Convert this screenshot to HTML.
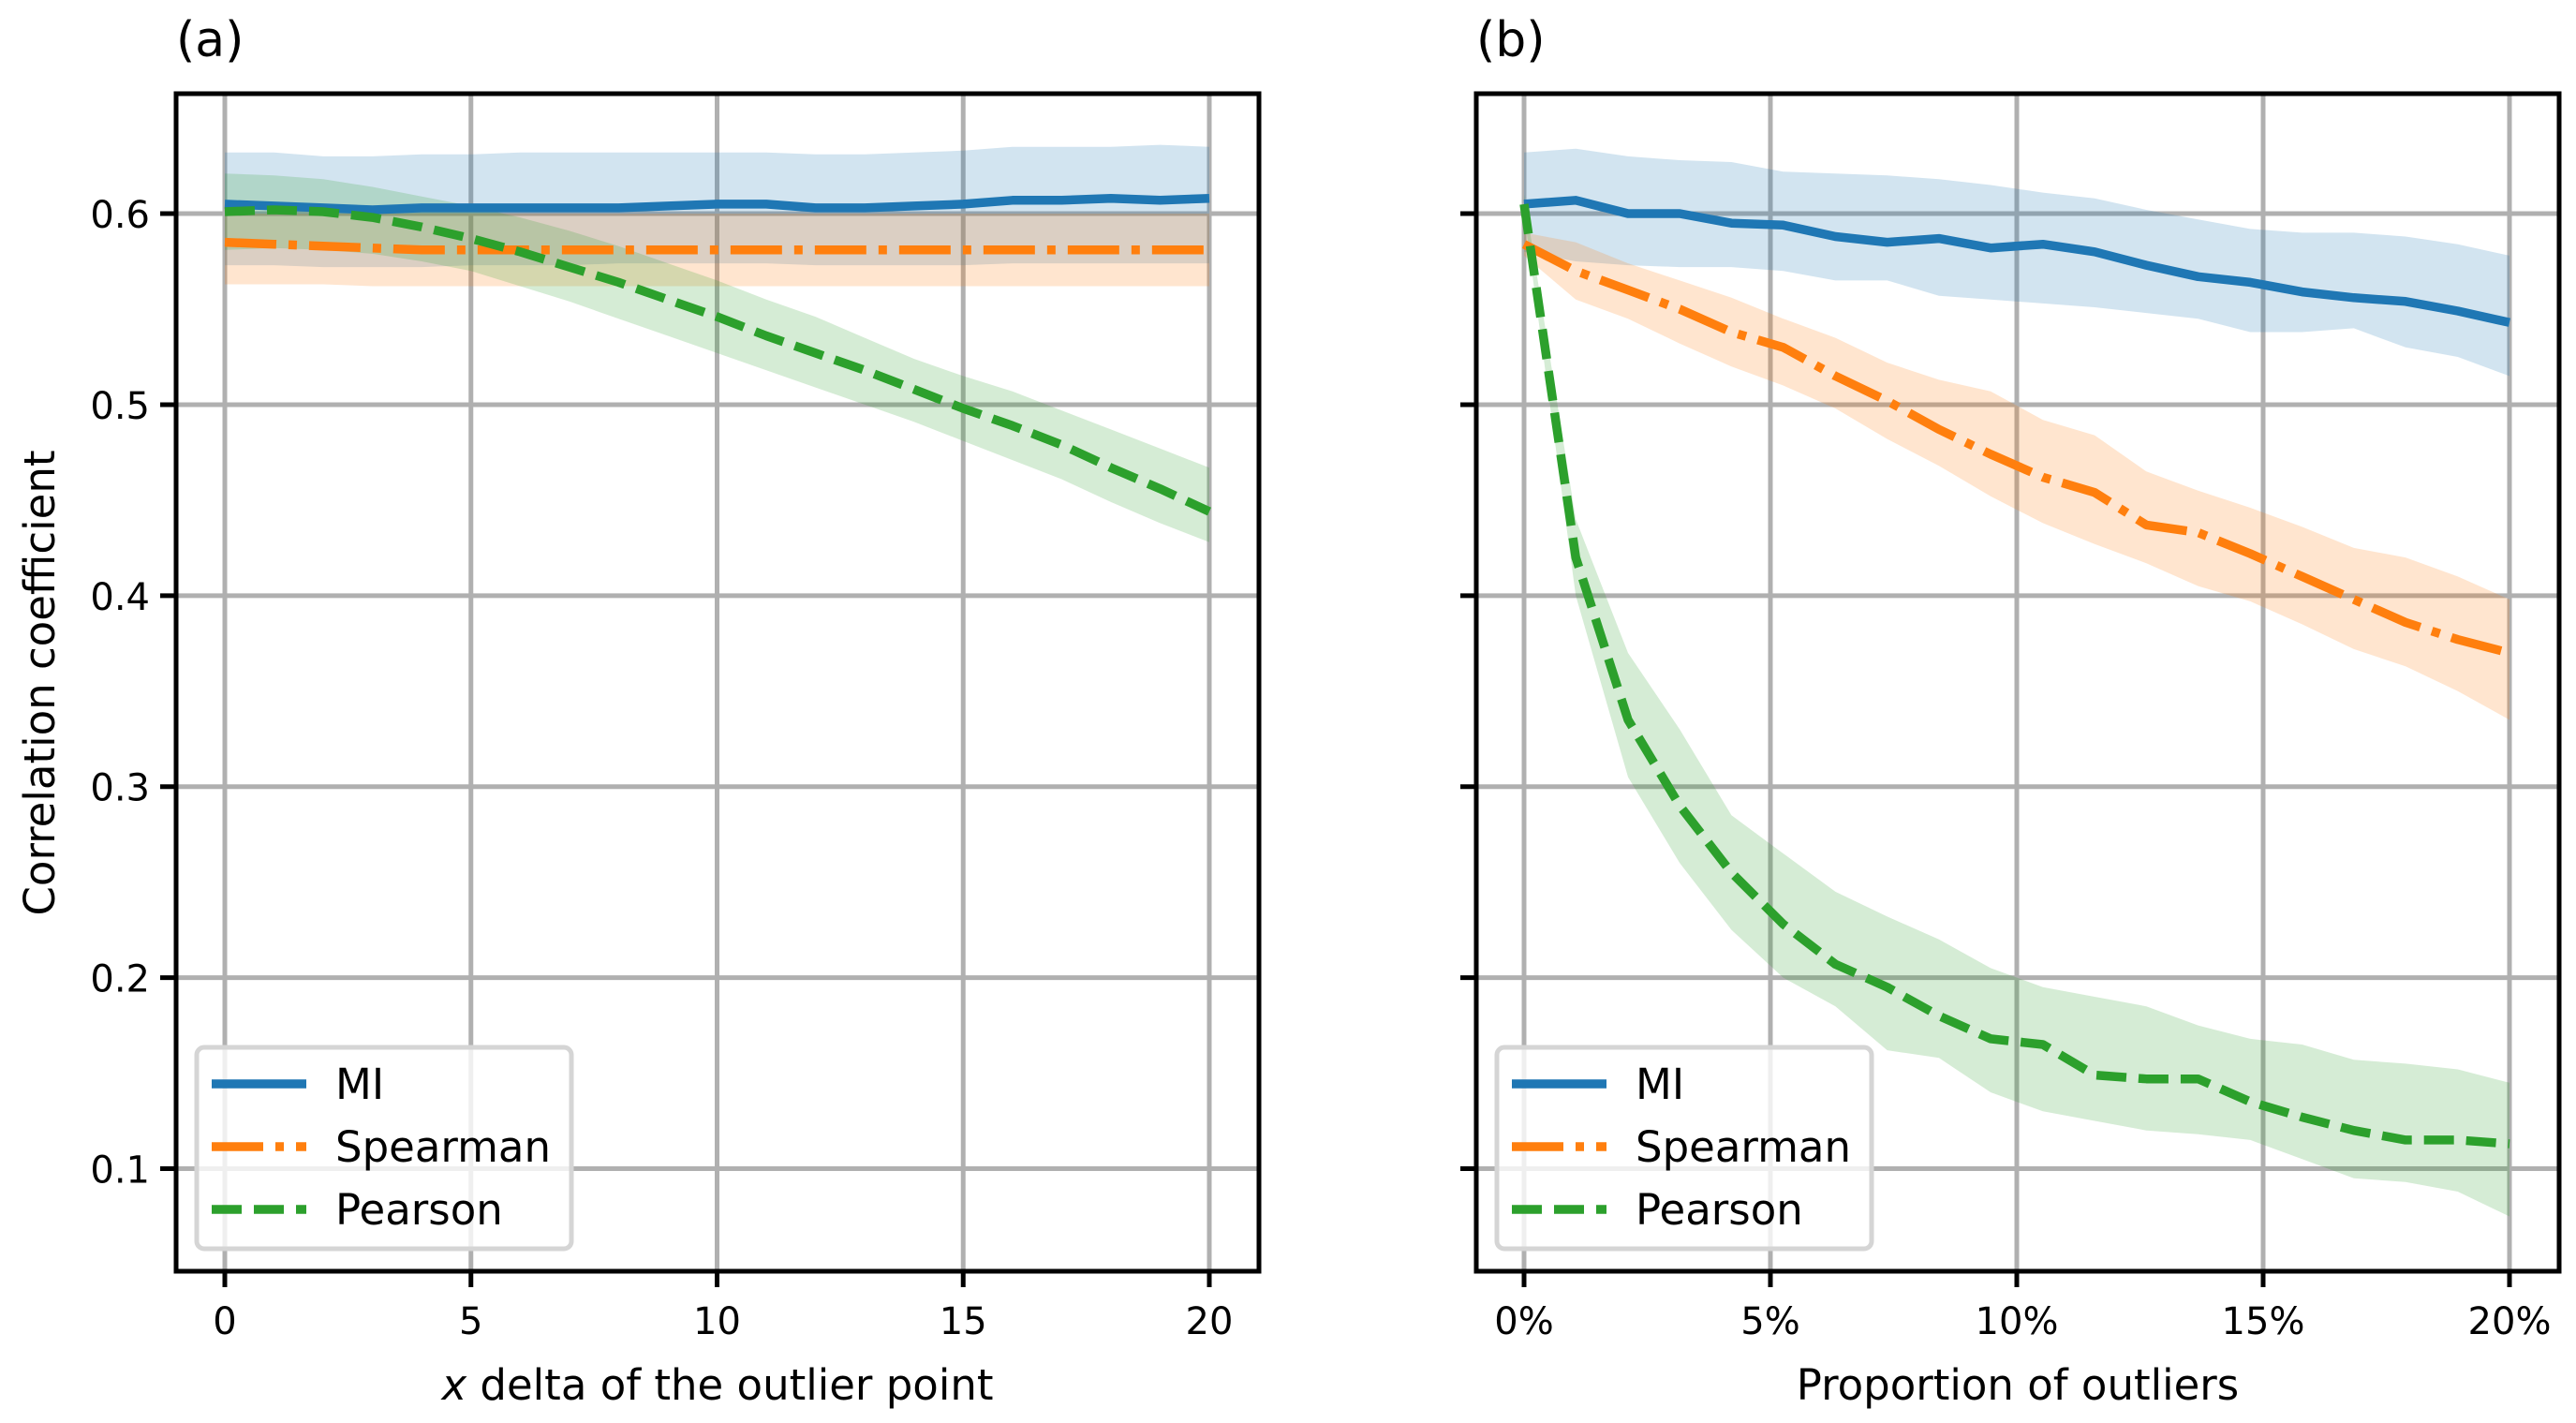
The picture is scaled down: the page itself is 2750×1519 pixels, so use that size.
<!DOCTYPE html>
<html><head><meta charset="utf-8">
<style>
html,body{margin:0;padding:0;background:#fff;}
svg{display:block;font-family:"DejaVu Sans","Liberation Sans",sans-serif;}
</style></head>
<body>
<svg id="fig" width="2750" height="1519" viewBox="0 0 2750 1519" xmlns="http://www.w3.org/2000/svg"></svg>
<script>
// ---- Panel (a) data ----
const aX = [0,1,2,3,4,5,6,7,8,9,10,11,12,13,14,15,16,17,18,19,20];
const aMI = [0.605,0.604,0.603,0.602,0.603,0.603,0.603,0.603,0.603,0.604,0.605,0.605,0.603,0.603,0.604,0.605,0.607,0.607,0.608,0.607,0.608];
const aMIhi = [0.632,0.632,0.630,0.630,0.631,0.631,0.632,0.632,0.632,0.632,0.632,0.632,0.631,0.631,0.632,0.633,0.635,0.635,0.635,0.636,0.635];
const aMIlo = [0.573,0.573,0.572,0.572,0.572,0.573,0.573,0.573,0.574,0.574,0.574,0.574,0.573,0.573,0.573,0.573,0.574,0.574,0.574,0.574,0.574];
const aSp = [0.585,0.584,0.583,0.582,0.581,0.581,0.581,0.581,0.581,0.581,0.581,0.581,0.581,0.581,0.581,0.581,0.581,0.581,0.581,0.581,0.581];
const aSphi = [0.600,0.600,0.600,0.600,0.600,0.600,0.600,0.600,0.600,0.600,0.600,0.600,0.600,0.600,0.600,0.600,0.600,0.600,0.600,0.600,0.600];
const aSplo = [0.563,0.563,0.563,0.562,0.562,0.562,0.562,0.562,0.562,0.562,0.562,0.562,0.562,0.562,0.562,0.562,0.562,0.562,0.562,0.562,0.562];
const aPe = [0.601,0.602,0.601,0.598,0.593,0.587,0.580,0.572,0.564,0.555,0.546,0.536,0.527,0.518,0.508,0.498,0.489,0.479,0.467,0.456,0.444];
const aPehi = [0.621,0.620,0.618,0.614,0.609,0.604,0.598,0.591,0.583,0.574,0.565,0.555,0.546,0.535,0.524,0.515,0.507,0.497,0.487,0.477,0.467];
const aPelo = [0.581,0.582,0.581,0.579,0.575,0.570,0.562,0.554,0.545,0.536,0.527,0.518,0.509,0.500,0.491,0.481,0.471,0.461,0.449,0.438,0.428];
// ---- Panel (b) data ----
const bX = [0,1.05,2.11,3.16,4.21,5.26,6.32,7.37,8.42,9.47,10.53,11.58,12.63,13.68,14.74,15.79,16.84,17.89,18.95,20];
const bMI = [0.605,0.607,0.600,0.600,0.595,0.594,0.588,0.585,0.587,0.582,0.584,0.580,0.573,0.567,0.564,0.559,0.556,0.554,0.549,0.543];
const bMIhi = [0.632,0.634,0.630,0.628,0.627,0.622,0.621,0.620,0.618,0.615,0.611,0.608,0.602,0.597,0.592,0.590,0.590,0.588,0.584,0.578];
const bMIlo = [0.580,0.575,0.573,0.572,0.572,0.570,0.565,0.565,0.557,0.555,0.553,0.551,0.548,0.545,0.538,0.538,0.540,0.530,0.525,0.515];
const bSp = [0.584,0.570,0.560,0.550,0.538,0.530,0.515,0.502,0.487,0.474,0.462,0.454,0.437,0.433,0.422,0.410,0.398,0.386,0.377,0.370];
const bSphi = [0.590,0.585,0.574,0.565,0.556,0.545,0.535,0.522,0.513,0.507,0.492,0.484,0.465,0.455,0.446,0.436,0.425,0.420,0.410,0.398];
const bSplo = [0.578,0.555,0.545,0.532,0.520,0.510,0.498,0.482,0.468,0.452,0.438,0.427,0.417,0.405,0.397,0.385,0.372,0.363,0.350,0.335];
const bPe = [0.605,0.420,0.335,0.290,0.255,0.228,0.207,0.195,0.180,0.168,0.165,0.149,0.147,0.147,0.135,0.127,0.120,0.115,0.115,0.113];
const bPehi = [0.610,0.440,0.370,0.330,0.285,0.265,0.245,0.232,0.220,0.205,0.195,0.190,0.185,0.175,0.168,0.165,0.157,0.155,0.152,0.145];
const bPelo = [0.600,0.400,0.305,0.260,0.225,0.200,0.185,0.162,0.158,0.140,0.130,0.125,0.120,0.118,0.115,0.105,0.095,0.093,0.088,0.075];
const yTicks = [0.1,0.2,0.3,0.4,0.5,0.6];
const yTickLabels = ["0.1","0.2","0.3","0.4","0.5","0.6"];
const aXTicks = [0,5,10,15,20];
const aXTickLabels = ["0","5","10","15","20"];
const bXTicks = [0,5,10,15,20];
const bXTickLabels = ["0%","5%","10%","15%","20%"];

const NS = "http://www.w3.org/2000/svg";
const svg = document.getElementById('fig');
function mk(tag, attrs, parent){
  const e = document.createElementNS(NS, tag);
  for (const k in attrs) e.setAttribute(k, attrs[k]);
  (parent||svg).appendChild(e);
  return e;
}
const C = {mi:"#1f77b4", sp:"#ff7f0e", pe:"#2ca02c"};
const LW = 9.5;
const TOP=100, BOT=1357, YMIN=0.0463, YMAX=0.6628;
function yS(v){ return BOT - (v - YMIN)/(YMAX - YMIN)*(BOT-TOP); }

function panel(cfg){
  const g = mk('g', {});
  
  
  const xS = v => cfg.x0 + (v - 0)/(20 - 0)*(cfg.x20 - cfg.x0);
  cfg.xticks.forEach((t,i)=>{
    const l = mk('line',{x1:xS(t),x2:xS(t),y1:TOP,y2:BOT,stroke:"#b0b0b0","stroke-width":5},g);
    
    
  });
  yTicks.forEach(t=>{
    const l = mk('line',{x1:cfg.L,x2:cfg.R,y1:yS(t),y2:yS(t),stroke:"#b0b0b0","stroke-width":5},g);
    
    
  });
  function band(xs, lo, hi, col, nm){
    let d = "M";
    xs.forEach((x,i)=>{ d += (i?" L":"") + xS(x).toFixed(1)+","+yS(hi[i]).toFixed(1); });
    for (let i=xs.length-1;i>=0;i--) d += " L"+xS(xs[i]).toFixed(1)+","+yS(lo[i]).toFixed(1);
    d += " Z";
    const p = mk('path',{d:d,fill:col,"fill-opacity":0.2,stroke:"none"},g);
    
    
  }
  band(cfg.xs, cfg.miLo, cfg.miHi, C.mi, 'mi-band');
  band(cfg.xs, cfg.spLo, cfg.spHi, C.sp, 'spearman-band');
  band(cfg.xs, cfg.peLo, cfg.peHi, C.pe, 'pearson-band');
  function line(xs, ys, col, dash, nm){
    const pts = xs.map((x,i)=>xS(x).toFixed(1)+","+yS(ys[i]).toFixed(1)).join(" ");
    const a = {points:pts,fill:"none",stroke:col,"stroke-width":LW,"stroke-linejoin":"round"};
    if (dash) a["stroke-dasharray"] = dash;
    const p = mk('polyline',a,g);
    
    
  }
  line(cfg.xs, cfg.mi, C.mi, null, 'mi-line');
  line(cfg.xs, cfg.sp, C.sp, "55,13,9,13", 'spearman-line');
  line(cfg.xs, cfg.pe, C.pe, "32,13", 'pearson-line');
  const fr = mk('rect',{x:cfg.L,y:TOP,width:cfg.R-cfg.L,height:BOT-TOP,fill:"none",stroke:"#000","stroke-width":5},g);
  
  
  cfg.xticks.forEach((t,i)=>{
    const tk = mk('line',{x1:xS(t),x2:xS(t),y1:BOT,y2:BOT+17,stroke:"#000","stroke-width":5},g);
    
    
    const tx = mk('text',{x:xS(t),y:1424,"font-size":40,"text-anchor":"middle",fill:"#000"},g);
    tx.textContent = cfg.xlabels[i];
    
    
  });
  yTicks.forEach((t,i)=>{
    const tk = mk('line',{x1:cfg.L-17,x2:cfg.L,y1:yS(t),y2:yS(t),stroke:"#000","stroke-width":5},g);
    
    
    if (cfg.ylabels){
      const tx = mk('text',{x:cfg.L-28,y:yS(t)+15,"font-size":40,"text-anchor":"end",fill:"#000"},g);
      tx.textContent = yTickLabels[i];
      
      
    }
  });
  const ti = mk('text',{x:cfg.L,y:60,"font-size":52,fill:"#000"},g);
  ti.textContent = cfg.title;
  
  
  const xl = mk('text',{x:(cfg.L+cfg.R)/2,y:1494,"font-size":45,"text-anchor":"middle",fill:"#000"},g);
  if (cfg.italicX){
    const s1 = mk('tspan',{"font-style":"italic"},xl); s1.textContent = "x";
    const s2 = mk('tspan',{},xl); s2.textContent = " delta of the outlier point";
  } else xl.textContent = cfg.xtitle;
  
  
  const lg = mk('g',{},g);
  
  
  const lx = cfg.L + 22;
  const lr = mk('rect',{x:lx,y:1118,width:400,height:215,rx:8,fill:"#fff","fill-opacity":0.8,stroke:"#d5d5d5","stroke-width":5},lg);
  
  
  const ent = [["MI",C.mi,null],["Spearman",C.sp,"55,13,9,13"],["Pearson",C.pe,"32,13"]];
  ent.forEach((e,i)=>{
    const yy = 1157 + i*67;
    const a = {x1:lx+16,x2:lx+117,y1:yy,y2:yy,stroke:e[1],"stroke-width":LW};
    if (e[2]) a["stroke-dasharray"]=e[2];
    const ln = mk('line',a,lg);
    
    
    const t = mk('text',{x:lx+148,y:yy+16,"font-size":45,fill:"#000"},lg);
    t.textContent = e[0];
    
    
  });
}

panel({name:"panel-a", L:188, R:1344, x0:240, x20:1291, xs:aX,
  mi:aMI, miHi:aMIhi, miLo:aMIlo, sp:aSp, spHi:aSphi, spLo:aSplo, pe:aPe, peHi:aPehi, peLo:aPelo,
  xticks:aXTicks, xlabels:aXTickLabels, ylabels:true, title:"(a)", italicX:true});
panel({name:"panel-b", L:1576, R:2732, x0:1627, x20:2679, xs:bX,
  mi:bMI, miHi:bMIhi, miLo:bMIlo, sp:bSp, spHi:bSphi, spLo:bSplo, pe:bPe, peHi:bPehi, peLo:bPelo,
  xticks:bXTicks, xlabels:bXTickLabels, ylabels:false, title:"(b)", xtitle:"Proportion of outliers"});

const yl = mk('text',{x:0,y:0,"font-size":45,"text-anchor":"middle",fill:"#000",transform:"translate(58,729) rotate(-90)"});
yl.textContent = "Correlation coefficient";


</script>
</body></html>
